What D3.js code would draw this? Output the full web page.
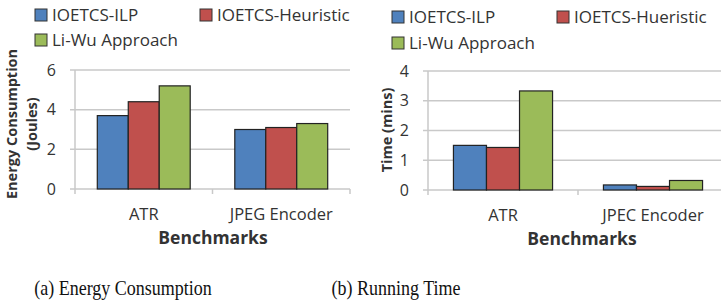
<!DOCTYPE html>
<html>
<head>
<meta charset="utf-8">
<script src="https://cdn.jsdelivr.net/npm/d3@7"></script>
<style>
  body { margin: 0; background: #fff; }
  svg { display: block; }
  text { font-family: "Open Sans", sans-serif; fill: #333; }
</style>
</head>
<body>
<script>
// Data
var energyCategories = ["ATR", "JPEG Encoder"];
var energySeries = ["IOETCS-ILP", "IOETCS-Heuristic", "Li-Wu Approach"];
var energyValues = [
  [3.7, 4.4, 5.2],
  [3.0, 3.1, 3.3]
];
var energyTicks = [0, 2, 4, 6];

var timeCategories = ["ATR", "JPEC Encoder"];
var timeSeries = ["IOETCS-ILP", "IOETCS-Hueristic", "Li-Wu Approach"];
var timeValues = [
  [1.5, 1.43, 3.33],
  [0.17, 0.12, 0.32]
];
var timeTicks = [0, 1, 2, 3, 4];

var colors = ["#4F81BD", "#C0504D", "#9BBB59"];

var svg = d3.select('body').append('svg')
  .attr('width', 721)
  .attr('height', 303);

function drawPanel(opts) {
  var g = svg.append('g');

  var x = d3.scaleBand()
    .domain(opts.categories)
    .range([opts.left, opts.right])
    .padding(0);

  var xs = d3.scaleBand()
    .domain(d3.range(opts.series.length))
    .range([0, x.bandwidth()])
    .paddingInner(0)
    .paddingOuter(opts.outer);

  var y = d3.scaleLinear()
    .domain([0, opts.max])
    .range([opts.bottom, opts.top]);

  // gridlines
  g.selectAll('.grid')
    .data(opts.ticks)
    .enter().append('line')
    .attr('x1', opts.left - 5)
    .attr('x2', opts.right)
    .attr('y1', d => y(d))
    .attr('y2', d => y(d))
    .style('stroke', '#c9c9c9')
    .style('stroke-width', 1.5);

  // y axis line
  g.append('line')
    .attr('x1', opts.left).attr('x2', opts.left)
    .attr('y1', opts.top).attr('y2', opts.bottom + 5)
    .style('stroke', '#c9c9c9')
    .style('stroke-width', 1.5);

  // x category ticks
  var bounds = opts.categories.map(c => x(c)).concat([opts.right]);
  g.selectAll('.xtick')
    .data(bounds.slice(1))
    .enter().append('line')
    .attr('x1', d => d).attr('x2', d => d)
    .attr('y1', opts.bottom).attr('y2', opts.bottom + 5)
    .style('stroke', '#c9c9c9')
    .style('stroke-width', 1.5);

  // y tick labels
  g.selectAll('.ylab')
    .data(opts.ticks)
    .enter().append('text')
    .attr('x', opts.left - 19)
    .attr('y', d => y(d))
    .attr('dy', '0.35em')
    .attr('text-anchor', 'end')
    .style('font-size', '16px')
    .text(d => d);

  // bars
  opts.categories.forEach(function(cat, ci) {
    g.selectAll('.bar' + ci)
      .data(opts.values[ci])
      .enter().append('rect')
      .attr('x', (d, i) => x(cat) + xs(i))
      .attr('y', d => y(d))
      .attr('width', xs.bandwidth())
      .attr('height', d => opts.bottom - y(d))
      .style('fill', (d, i) => colors[i])
      .style('stroke', '#222')
      .style('stroke-width', 1.2);
  });

  // category labels
  g.selectAll('.xlab')
    .data(opts.categories)
    .enter().append('text')
    .attr('x', d => x(d) + x.bandwidth() / 2)
    .attr('y', opts.bottom + 31)
    .attr('text-anchor', 'middle')
    .style('font-size', '16.5px')
    .text(d => d);

  g.append('text')
    .attr('x', opts.titleX)
    .attr('y', opts.bottom + 55)
    .attr('text-anchor', 'middle')
    .style('font-size', '17.5px')
    .style('font-weight', 'bold')
    .text('Benchmarks');

  // y axis title
  opts.yTitle.forEach(function(line, i) {
    g.append('text')
      .attr('transform', 'translate(' + opts.yTitleX[i] + ',' + opts.yTitleY + ') rotate(-90)')
      .attr('text-anchor', 'middle')
      .style('font-size', '14.5px')
      .style('font-weight', 'bold')
      .text(line);
  });

  // legend
  var leg = g.selectAll('.leg')
    .data(opts.series)
    .enter().append('g')
    .attr('transform', (d, i) => 'translate(' + opts.legX[i % 2] + ',' + opts.legY[Math.floor(i / 2)] + ')');
  leg.append('rect')
    .attr('x', 0).attr('y', -6)
    .attr('width', 12).attr('height', 12)
    .style('fill', (d, i) => colors[i])
    .style('stroke', '#333')
    .style('stroke-width', 1);
  leg.append('text')
    .attr('x', 17)
    .attr('y', 0)
    .attr('dy', '0.35em')
    .style('font-size', '17px')
    .text(d => d);

  // caption, Times-like and slightly condensed
  svg.append('text')
    .attr('transform', 'translate(' + opts.captionX + ',295) scale(0.9,1)')
    .attr('text-anchor', 'middle')
    .style('font-family', '"Liberation Serif", "Times New Roman", serif')
    .style('font-size', '20px')
    .style('fill', '#111')
    .text(opts.caption);
}

drawPanel({
  categories: energyCategories, series: energySeries, values: energyValues,
  ticks: energyTicks, max: 6,
  left: 75, right: 350, top: 70, bottom: 189, outer: 0.72,
  titleX: 213, yTitle: ["Energy Consumption", "(Joules)"], yTitleX: [17, 37], yTitleY: 124,
  legX: [35, 200], legY: [15, 40],
  caption: "(a) Energy Consumption", captionX: 123
});

drawPanel({
  categories: timeCategories, series: timeSeries, values: timeValues,
  ticks: timeTicks, max: 4,
  left: 428, right: 728, top: 71, bottom: 190, outer: 0.77,
  titleX: 582, yTitle: ["Time (mins)"], yTitleX: [392], yTitleY: 130,
  legX: [392, 557], legY: [17, 43],
  caption: "(b) Running Time", captionX: 396
});
</script>
</body>
</html>
